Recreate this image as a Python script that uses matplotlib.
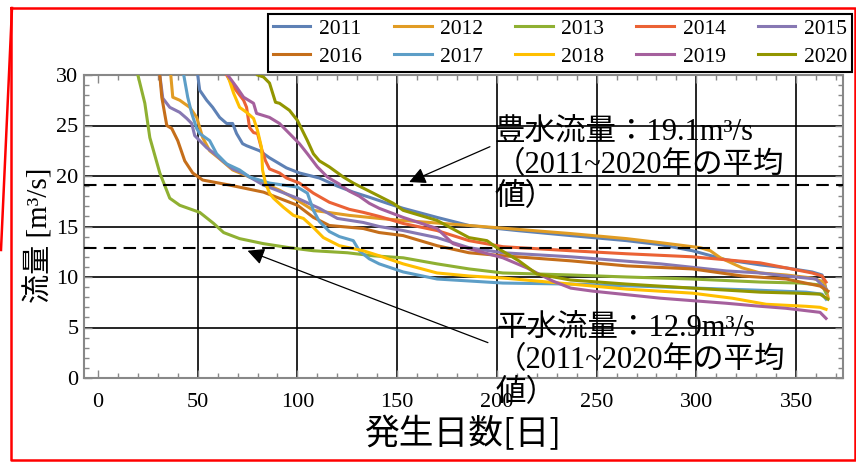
import matplotlib.pyplot as plt
from matplotlib.lines import Line2D
from matplotlib.ticker import MultipleLocator

plt.rcParams['font.family'] = ['Liberation Serif', 'Noto Sans CJK JP']

years = ['2011', '2012', '2013', '2014', '2015', '2016', '2017', '2018', '2019', '2020']
colors = ['#5E81B5', '#E19C24', '#8FB032', '#EB6235', '#8778B3',
          '#C56E1A', '#5D9EC7', '#FFBF00', '#A5609D', '#929600']

# flow duration curves: day of exceedance vs flow [m3/s] (only the part below 30 is shown)
days_2011 = [50, 51, 54.5, 57.5, 61, 64.5, 67.5, 69.5, 72.5, 74.5, 81, 86, 94.5, 101, 111, 120, 128, 136,
             145, 153, 170, 186, 210, 237, 265, 282, 298, 315, 332, 345, 358, 363, 365]
flow_2011 = [30, 28.5, 27.5, 26.8, 25.8, 25.2, 25.2, 24.2, 23.2, 23.0, 22.5, 21.8, 20.8, 20.3, 19.8, 19.0, 18.4, 17.9,
             17.3, 16.8, 15.9, 15.1, 14.6, 14.1, 13.6, 13.2, 12.6, 11.7, 11.2, 10.9, 10.5, 10.2, 8.8]

days_2012 = [36.5, 37.5, 41, 46, 49.5, 52.5, 56, 61, 67.5, 76, 91, 100, 108, 126, 141, 153, 186, 237,
             265, 282, 302, 307, 312, 323, 332, 345, 358, 364, 366]
flow_2012 = [30, 27.8, 27.5, 26.8, 25.8, 23.8, 22.5, 21.7, 20.6, 19.9, 18.6, 17.6, 16.6, 16.1, 15.8, 15.6, 15.1, 14.3,
             13.8, 13.4, 12.9, 12.6, 11.9, 10.9, 10.4, 10.2, 9.9, 9.5, 8.0]

days_2013 = [20, 23.5, 26, 31, 36, 41, 51, 58, 63, 71, 83, 96, 108, 125, 138, 153, 170, 186, 203,
             237, 265, 298, 332, 352, 363, 365]
flow_2013 = [30, 27.2, 23.8, 20.3, 17.8, 17.1, 16.4, 15.3, 14.4, 13.8, 13.3, 12.9, 12.6, 12.4, 12.1, 11.9, 11.3, 10.8, 10.4,
             10.2, 10.0, 9.8, 9.5, 9.4, 9.2, 8.4]

days_2014 = [64.5, 68, 73, 74.5, 76, 78, 80, 82, 84, 86, 91, 94.5, 101, 108, 116, 126, 133, 141, 153, 170,
             186, 203, 237, 265, 298, 332, 345, 358, 363, 365]
flow_2014 = [30, 28.8, 27.5, 26.8, 24.8, 24.3, 24.2, 22.7, 21.5, 20.7, 20.3, 19.8, 19.3, 18.3, 17.4, 16.7, 16.4, 16.0, 15.3, 14.6,
             13.6, 13.0, 12.6, 12.3, 12.0, 11.4, 10.9, 10.4, 10.1, 9.5]

days_2015 = [31, 32.5, 36, 41, 44.5, 47, 48.5, 51, 54.5, 58.5, 62.5, 67.5, 72.5, 83, 100, 111, 120, 133, 141,
             153, 170, 186, 203, 237, 282, 315, 332, 345, 360, 365]
flow_2015 = [30, 27.7, 26.8, 26.3, 25.7, 25.2, 24.0, 23.5, 22.8, 22.2, 21.5, 20.7, 20.3, 19.1, 17.8, 16.8, 15.8, 15.4, 15.0,
             14.6, 13.9, 12.9, 12.4, 12.0, 11.3, 10.6, 10.4, 10.1, 9.8, 8.8]

days_2016 = [31, 32, 34.5, 37, 40, 43.5, 47.5, 52.5, 66, 83, 100, 108, 116, 133, 141, 153, 170, 186,
             203, 237, 265, 298, 323, 345, 362, 366]
flow_2016 = [30, 27.8, 25.0, 24.7, 23.5, 21.5, 20.3, 19.6, 19.1, 18.4, 17.1, 15.9, 15.1, 14.8, 14.4, 14.1, 13.1, 12.4,
             12.1, 11.6, 11.1, 10.8, 10.1, 9.8, 9.1, 8.6]

days_2017 = [43, 45, 47, 49.5, 51, 56, 59.5, 64.5, 71, 76, 86, 100, 105, 108, 111, 116, 121, 128, 131, 136,
             141, 153, 170, 203, 237, 270, 300, 330, 355, 363, 365]
flow_2017 = [30, 27.8, 26.2, 24.7, 24.2, 23.5, 22.2, 21.2, 20.6, 19.9, 19.3, 18.9, 18.3, 16.6, 15.5, 14.5, 14.0, 13.6, 12.6, 11.8,
             11.3, 10.5, 9.8, 9.4, 9.3, 9.1, 8.9, 8.7, 8.5, 8.3, 7.8]

days_2018 = [65, 68, 71, 74.5, 78, 80, 82, 82.5, 84, 86, 88, 93, 98, 103, 108, 113, 121, 133, 141, 153,
             170, 186, 203, 237, 265, 298, 318, 335, 355, 362, 365]
flow_2018 = [30, 28.2, 26.8, 26.3, 25.7, 24.5, 22.8, 20.6, 19.3, 18.3, 17.8, 16.9, 16.1, 15.8, 14.9, 13.9, 13.1, 12.6, 12.1, 11.3,
             10.4, 10.1, 9.9, 9.3, 8.8, 8.4, 7.9, 7.3, 7.1, 7.0, 6.8]

days_2019 = [65, 69.5, 73, 78, 79.5, 86, 91, 96, 101, 105, 110, 115, 121, 126, 131, 136, 141, 153, 170,
             178, 186, 203, 215, 228, 237, 248, 282, 315, 332, 345, 362, 365]
flow_2019 = [30, 28.8, 27.8, 27.2, 26.2, 25.8, 25.2, 24.2, 23.2, 22.2, 20.9, 19.9, 19.2, 18.5, 18.0, 17.3, 16.8, 15.9, 14.8,
             13.3, 12.8, 11.9, 10.9, 9.6, 8.9, 8.6, 7.9, 7.4, 7.1, 6.9, 6.5, 5.9]

days_2020 = [80, 83, 86, 89, 91, 96, 100, 102, 105, 108, 111, 116, 123, 128, 136, 148, 153, 170, 186,
             195, 200, 211, 220, 237, 265, 298, 332, 350, 362, 366]
flow_2020 = [30, 29.8, 29.2, 27.3, 27.2, 26.5, 25.5, 24.7, 23.5, 22.2, 21.5, 20.9, 19.9, 19.3, 18.5, 17.3, 16.6, 15.6, 13.9,
             13.6, 12.9, 11.6, 10.3, 9.7, 9.3, 8.9, 8.5, 8.4, 8.3, 7.8]

all_days = [days_2011, days_2012, days_2013, days_2014, days_2015,
            days_2016, days_2017, days_2018, days_2019, days_2020]
all_flows = [flow_2011, flow_2012, flow_2013, flow_2014, flow_2015,
             flow_2016, flow_2017, flow_2018, flow_2019, flow_2020]

high_flow = 19.1   # 豊水流量
normal_flow = 12.9  # 平水流量
high_lines = ['豊水流量：19.1m³/s', '（2011~2020年の平均', '値）']
normal_lines = ['平水流量：12.9m³/s', '（2011~2020年の平均', '値）']

W, H = 856, 462
fig = plt.figure(figsize=(W / 100, H / 100), dpi=100)
ax = fig.add_axes([84 / W, 1 - 378 / H, (843 - 84) / W, (378 - 75) / H])

# grid lines
for gx in range(50, 351, 50):
    ax.axvline(gx, color='black', lw=1.2, zorder=1)
for gy in range(5, 26, 5):
    ax.axhline(gy, color='black', lw=1.2, zorder=1)

lines = []
for d, f, c, y in zip(all_days, all_flows, colors, years):
    ln, = ax.plot(d, f, color=c, lw=2.2, label=y, zorder=3, solid_joinstyle='round')
    lines.append(ln)

ax.axhline(high_flow, color='black', lw=1.5, dashes=(6, 3.5), zorder=4)
ax.axhline(normal_flow, color='black', lw=1.5, dashes=(6, 3.5), zorder=4)

ax.set_xlim(-7, 373.5)
ax.set_ylim(0, 30)
ax.xaxis.set_major_locator(MultipleLocator(50))
ax.xaxis.set_minor_locator(MultipleLocator(10))
ax.yaxis.set_major_locator(MultipleLocator(5))
ax.yaxis.set_minor_locator(MultipleLocator(1))
ax.tick_params(which='both', direction='in', top=True, right=True, color='#888888', width=1.0)
ax.tick_params(which='major', length=6, labelsize=16)
ax.tick_params(which='minor', length=3.5)
ax.tick_params(axis='x', pad=11)
ax.tick_params(axis='y', pad=4)
for s in ax.spines.values():
    s.set_color('#888888')
    s.set_linewidth(1.5)

ax.set_ylabel('流量 [m³/s]', fontsize=21)
ax.yaxis.set_label_coords(-0.040, 0.472)
ax.set_xlabel('発生日数[日]', fontsize=25, family='Noto Sans CJK JP')
ax.xaxis.set_label_coords(0.5, -0.13)

arrow = dict(arrowstyle='-|>', mutation_scale=25, lw=0.9, color='black', shrinkA=0, shrinkB=0)
ax.annotate('', xy=(156, 19.4), xytext=(196.5, 22.9), arrowprops=arrow, zorder=5)
ax.annotate('', xy=(75, 12.6), xytext=(195.5, 3.5), arrowprops=arrow, zorder=5)

# note text, one line at a time
for txt, yy in zip(high_lines, [24.2, 21.05, 17.9]):
    ax.text(199, yy, txt, ha='left', va='center', fontsize=22, zorder=6)
for txt, yy in zip(normal_lines, [4.85, 1.7, -1.55]):
    ax.text(199.5, yy, txt, ha='left', va='center', fontsize=22, zorder=6)

order = [0, 5, 1, 6, 2, 7, 3, 8, 4, 9]
leg = fig.legend([lines[i] for i in order], [years[i] for i in order], ncol=5,
                 loc='lower left', bbox_to_anchor=(268 / W, 1 - 71.5 / H, (852 - 268) / W, 58 / H),
                 mode='expand', fontsize=15.5, frameon=True, fancybox=False, framealpha=1,
                 edgecolor='black', handlelength=1.75, handletextpad=0.4, labelspacing=0.38,
                 borderpad=0.22, borderaxespad=0)
leg.get_frame().set_linewidth(1.5)

# red outline around the figure
def fx(px):
    return px / W

def fy(py):
    return 1 - py / H

red = dict(color='red', lw=1.8, transform=fig.transFigure)
fig.add_artist(Line2D([fx(11), fx(855), fx(855), fx(11), fx(11)],
                      [fy(8), fy(8), fy(460), fy(460), fy(8)], **red))
fig.add_artist(Line2D([fx(12), fx(1)], [fy(8), fy(250)], **red))

fig.savefig('out.png', dpi=100)
